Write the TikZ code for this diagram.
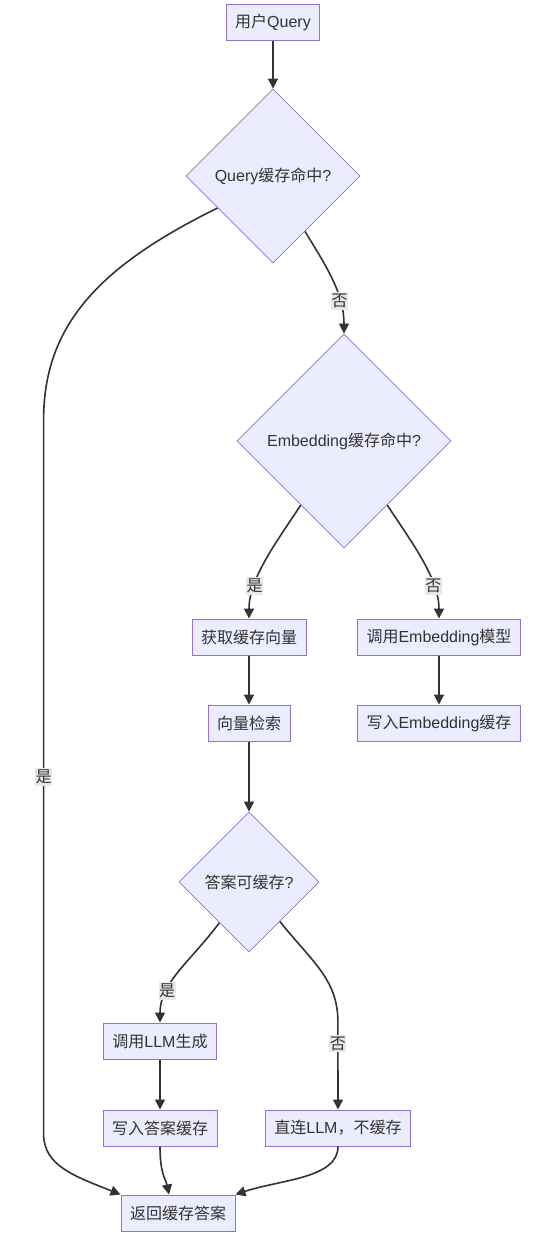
\documentclass[tikz,border=0pt]{standalone}
\usepackage{fontspec}
\usepackage{xcolor}
\usepackage{tikz}
\usetikzlibrary{shapes,arrows,positioning,shapes.geometric,arrows.meta,calc}
\setmainfont{Liberation Sans}
\newfontfamily\zhfont{Noto Sans CJK SC}
\newcommand{\zh}[1]{{\zhfont #1}}
\definecolor{nodefill}{HTML}{ECECFF}
\definecolor{nodeline}{HTML}{9370DB}
\definecolor{edgegray}{HTML}{333333}
\definecolor{labelgray}{HTML}{E8E8E8}

\begin{document}
\begin{tikzpicture}[
    x=1pt, y=-1pt,
    flowbox/.style={
        rectangle, draw=nodeline, line width=1pt, fill=nodefill,
        text=edgegray, inner xsep=9pt, inner ysep=2pt,
        minimum height=36pt, font=\fontsize{16pt}{19pt}\selectfont
    },
    decision/.style={
        diamond, aspect=1, draw=nodeline, line width=0.8pt, fill=nodefill,
        text=edgegray, inner sep=2pt, minimum width=#1, minimum height=#1,
        font=\fontsize{16pt}{19pt}\selectfont
    },
    flow/.style={draw=edgegray, line width=1.6pt, -{Triangle[length=10pt, width=10pt]}},
    flowlabel/.style={fill=labelgray, text=edgegray, inner xsep=0.5pt, inner ysep=2pt,
        font=\fontsize{16pt}{19pt}\selectfont}
]
    \useasboundingbox (0,0) rectangle (540,1256);

    \node[flowbox] (user) at (273,22) {\zh{用户}Query};
    \node[decision=174pt] (q1) at (273,176) {Query\zh{缓存命中}?};
    \node[decision=214pt] (e1) at (344,441) {Embedding\zh{缓存命中}?};
    \node[flowbox] (fetch) at (249,637) {\zh{获取缓存向量}};
    \node[flowbox, below=49pt of fetch] (search) {\zh{向量检索}};
    \node[flowbox] (callemb) at (439,637) {\zh{调用}Embedding\zh{模型}};
    \node[flowbox, below=49pt of callemb] (writeemb) {\zh{写入}Embedding\zh{缓存}};
    \node[decision=140pt] (ans) at (249,882) {\zh{答案可缓存}?};
    \node[flowbox] (callllm) at (160,1041) {\zh{调用}LLM\zh{生成}};
    \node[flowbox, below=50pt of callllm] (writeans) {\zh{写入答案缓存}};
    \node[flowbox] (direct) at (338,1128) {\zh{直连}LLM\zh{，不缓存}};
    \node[flowbox] (ret) at (178,1213) {\zh{返回缓存答案}};

    \draw[flow] (user) -- (q1);
    \draw[flow] (q1.-60) .. controls +(22,36) and +(0,-40) .. node[flowlabel, pos=0.7] {\zh{否}} (e1.north);
    \draw[flow] (q1.210) .. controls +(-118,58) and +(0,-95) .. ++(-174,212)
        -- node[flowlabel] {\zh{是}} ++(0,714)
        .. controls +(0,32) and +(-45,-18) .. (ret.north west);
    \draw[flow] (e1.236) .. controls +(-25,38) and +(0,-40) .. node[flowlabel, pos=0.72] {\zh{是}} (fetch.north);
    \draw[flow] (e1.-56) .. controls +(25,38) and +(0,-40) .. node[flowlabel, pos=0.72] {\zh{否}} (callemb.north);
    \draw[flow] (fetch) -- (search);
    \draw[flow] (callemb) -- (writeemb);
    \draw[flow] (search) -- (ans);
    \draw[flow] (ans.234) .. controls +(-30,40) and +(0,-40) .. node[flowlabel, pos=0.7] {\zh{是}} (callllm.north);
    \draw[flow] (ans.-52) .. controls +(32,40) and +(0,-42) .. ++(58,100)
        -- node[flowlabel, pos=0.25] {\zh{否}} (direct.north);
    \draw[flow] (callllm) -- (writeans);
    \draw[flow] (writeans.south) .. controls +(0,28) and +(-3,-15) .. (ret.116);
    \draw[flow] (direct.south) .. controls +(0,32) and +(45,-15) .. (ret.north east);
\end{tikzpicture}
\end{document}
